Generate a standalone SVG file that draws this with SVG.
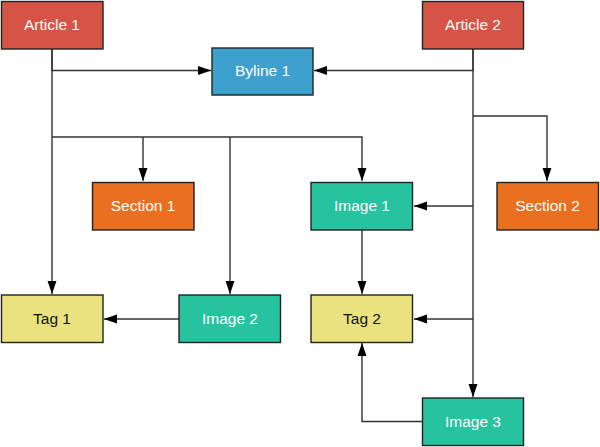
<svg xmlns="http://www.w3.org/2000/svg" width="600" height="447" viewBox="0 0 600 447">
<style>
.n{stroke:#222;stroke-width:1.4}
.t{font-family:"Liberation Sans",Arial,sans-serif;font-size:15.5px;text-anchor:middle;fill:#fff}
.d{fill:#111}
.e{fill:none;stroke:#333;stroke-width:1.4}
</style>
<defs>
<marker id="a" markerUnits="userSpaceOnUse" markerWidth="14" markerHeight="10" refX="13" refY="5" orient="auto"><path d="M0,0.5 L13,5 L0,9.5 Z" fill="#000"/></marker>
</defs>
<rect width="600" height="447" fill="#fff"/>
<g id="edges">
<path class="e" d="M52,49 V70.5 H211" marker-end="url(#a)"/>
<path class="e" d="M473,49 V70.5 H314" marker-end="url(#a)"/>
<path class="e" d="M52,49 V294" marker-end="url(#a)"/>
<path class="e" d="M52,137 H362 V181" marker-end="url(#a)"/>
<path class="e" d="M143,137 V181" marker-end="url(#a)"/>
<path class="e" d="M230,137 V294" marker-end="url(#a)"/>
<path class="e" d="M473,49 V397" marker-end="url(#a)"/>
<path class="e" d="M473,116 H547 V181" marker-end="url(#a)"/>
<path class="e" d="M473,206 H414" marker-end="url(#a)"/>
<path class="e" d="M473,319 H414" marker-end="url(#a)"/>
<path class="e" d="M362,230 V294" marker-end="url(#a)"/>
<path class="e" d="M179,319 H104" marker-end="url(#a)"/>
<path class="e" d="M422,421.5 H362 V343" marker-end="url(#a)"/>
</g>
<g id="article1"><rect class="n" x="1.5" y="1.5" width="101.5" height="47.5" fill="#D55445"/><text class="t" x="52" y="30">Article 1</text></g>
<g id="article2"><rect class="n" x="422.5" y="1.5" width="101" height="47.5" fill="#D55445"/><text class="t" x="473" y="30">Article 2</text></g>
<g id="byline1"><rect class="n" x="212" y="48" width="101" height="47" fill="#3DA0CD"/><text class="t" x="262.5" y="76">Byline 1</text></g>
<g id="section1"><rect class="n" x="92.5" y="182.5" width="101.5" height="47.5" fill="#E87020"/><text class="t" x="143" y="211">Section 1</text></g>
<g id="image1"><rect class="n" x="311" y="182.5" width="101.5" height="47.5" fill="#27C29E"/><text class="t" x="362" y="211">Image 1</text></g>
<g id="section2"><rect class="n" x="497" y="182.5" width="101.5" height="47.5" fill="#E87020"/><text class="t" x="547.5" y="211">Section 2</text></g>
<g id="tag1"><rect class="n" x="1.5" y="295" width="101.5" height="47.5" fill="#E9E27F"/><text class="t d" x="52" y="324">Tag 1</text></g>
<g id="image2"><rect class="n" x="179" y="295" width="101.5" height="47.5" fill="#27C29E"/><text class="t" x="230" y="324">Image 2</text></g>
<g id="tag2"><rect class="n" x="311" y="295" width="101.5" height="47.5" fill="#E9E27F"/><text class="t d" x="362" y="324">Tag 2</text></g>
<g id="image3"><rect class="n" x="422.5" y="398" width="101" height="47.5" fill="#27C29E"/><text class="t" x="473" y="427">Image 3</text></g>
</svg>
